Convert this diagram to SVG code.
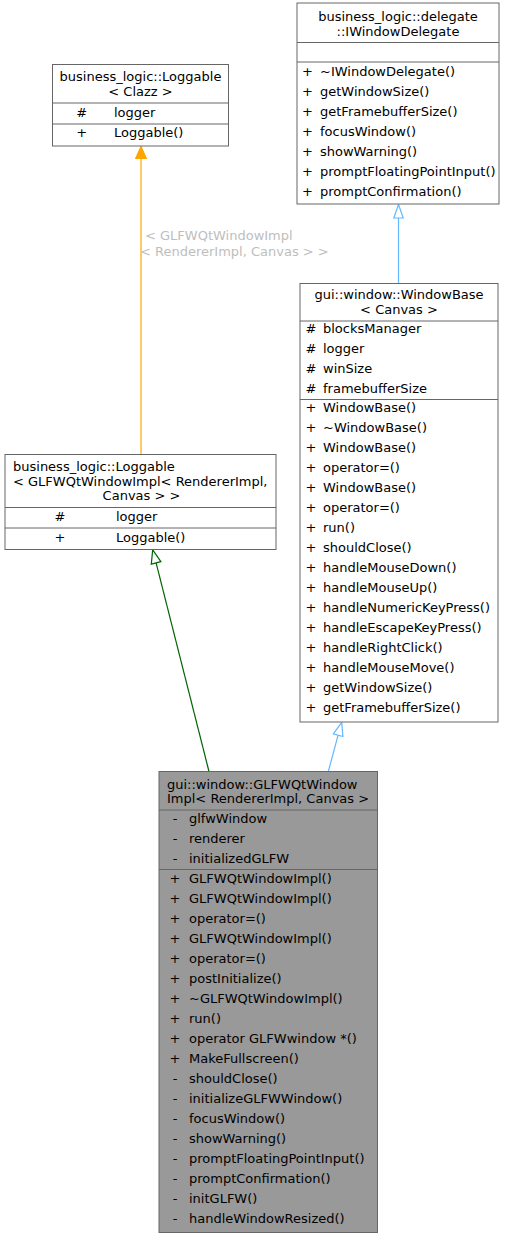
<svg xmlns="http://www.w3.org/2000/svg" width="507" height="1237" viewBox="0 0 507 1237">
<style>
text{font-family:"DejaVu Sans","Liberation Sans",sans-serif;font-size:13px;fill:#000}
.c{text-anchor:middle}
.box{fill:#fff;stroke:#666;stroke-width:1}
.cur{fill:#999;stroke:#666;stroke-width:1}
.sep{stroke:#666;stroke-width:1}
.lbl{fill:#bebebe}
</style>
<rect width="507" height="1237" fill="#fff"/>
<g id="connectors" fill="none" stroke-width="1.2">
  <line x1="141" y1="158" x2="141" y2="454.5" stroke="#ffa500"/>
  <polygon points="141,146.5 135.7,158.5 146.3,158.5" fill="#ffa500" stroke="#ffa500"/>
  <text class="lbl" x="145" y="239.5">&lt; GLFWQtWindowImpl</text>
  <text class="lbl" x="140" y="256">&lt; RendererImpl, Canvas &gt; &gt;</text>
  <line x1="398.5" y1="218" x2="398.5" y2="283.5" stroke="#63b8ff"/>
  <polygon points="398.5,204.5 393.8,218 403.2,218" fill="#fff" stroke="#63b8ff"/>
  <line x1="209" y1="771.5" x2="156.1" y2="562.9" stroke="#006400"/>
  <polygon points="152.7,549.8 160.9,561.7 151.3,564.1" fill="#fff" stroke="#006400"/>
  <line x1="328.3" y1="771.5" x2="338.1" y2="735.2" stroke="#63b8ff"/>
  <polygon points="341.7,722.3 342.9,736.5 333.3,733.9" fill="#fff" stroke="#63b8ff"/>
</g>
<g id="node_loggable_clazz">
  <rect class="box" x="52.5" y="64.5" width="176" height="81.5"/>
  <text class="c" x="140.5" y="81">business_logic::Loggable</text>
  <text class="c" x="140.5" y="96">&lt; Clazz &gt;</text>
  <line class="sep" x1="52.5" y1="103" x2="228.5" y2="103"/>
  <text class="c" x="81.7" y="116.5">#</text><text x="114" y="116.5">logger</text>
  <line class="sep" x1="52.5" y1="124" x2="228.5" y2="124"/>
  <text class="c" x="81.7" y="136.5">+</text><text x="114" y="136.5">Loggable()</text>
</g>
<g id="node_iwindowdelegate">
  <rect class="box" x="297" y="3" width="202" height="201"/>
  <text class="c" x="398" y="21">business_logic::delegate</text>
  <text class="c" x="398" y="36">::IWindowDelegate</text>
  <line class="sep" x1="297" y1="42.5" x2="499" y2="42.5"/>
  <line class="sep" x1="297" y1="62" x2="499" y2="62"/>
  <text class="c" x="307.5" y="75.5">+</text><text x="320" y="75.5">~IWindowDelegate()</text>
  <text class="c" x="307.5" y="95.5">+</text><text x="320" y="95.5">getWindowSize()</text>
  <text class="c" x="307.5" y="115.5">+</text><text x="320" y="115.5">getFramebufferSize()</text>
  <text class="c" x="307.5" y="135.5">+</text><text x="320" y="135.5">focusWindow()</text>
  <text class="c" x="307.5" y="155.5">+</text><text x="320" y="155.5">showWarning()</text>
  <text class="c" x="307.5" y="175.5">+</text><text x="320" y="175.5">promptFloatingPointInput()</text>
  <text class="c" x="307.5" y="195.5">+</text><text x="320" y="195.5">promptConfirmation()</text>
</g>
<g id="node_windowbase">
  <rect class="box" x="300" y="283.5" width="198" height="438.5"/>
  <text class="c" x="399" y="299">gui::window::WindowBase</text>
  <text class="c" x="399" y="314">&lt; Canvas &gt;</text>
  <line class="sep" x1="300" y1="321" x2="498" y2="321"/>
  <text class="c" x="311" y="333">#</text><text x="323" y="333">blocksManager</text>
  <text class="c" x="311" y="353">#</text><text x="323" y="353">logger</text>
  <text class="c" x="311" y="373">#</text><text x="323" y="373">winSize</text>
  <text class="c" x="311" y="393">#</text><text x="323" y="393">framebufferSize</text>
  <line class="sep" x1="300" y1="399.5" x2="498" y2="399.5"/>
  <text class="c" x="311" y="411.5">+</text><text x="323" y="411.5">WindowBase()</text>
  <text class="c" x="311" y="431.5">+</text><text x="323" y="431.5">~WindowBase()</text>
  <text class="c" x="311" y="451.5">+</text><text x="323" y="451.5">WindowBase()</text>
  <text class="c" x="311" y="471.5">+</text><text x="323" y="471.5">operator=()</text>
  <text class="c" x="311" y="491.5">+</text><text x="323" y="491.5">WindowBase()</text>
  <text class="c" x="311" y="511.5">+</text><text x="323" y="511.5">operator=()</text>
  <text class="c" x="311" y="531.5">+</text><text x="323" y="531.5">run()</text>
  <text class="c" x="311" y="551.5">+</text><text x="323" y="551.5">shouldClose()</text>
  <text class="c" x="311" y="571.5">+</text><text x="323" y="571.5">handleMouseDown()</text>
  <text class="c" x="311" y="591.5">+</text><text x="323" y="591.5">handleMouseUp()</text>
  <text class="c" x="311" y="611.5">+</text><text x="323" y="611.5">handleNumericKeyPress()</text>
  <text class="c" x="311" y="631.5">+</text><text x="323" y="631.5">handleEscapeKeyPress()</text>
  <text class="c" x="311" y="651.5">+</text><text x="323" y="651.5">handleRightClick()</text>
  <text class="c" x="311" y="671.5">+</text><text x="323" y="671.5">handleMouseMove()</text>
  <text class="c" x="311" y="691.5">+</text><text x="323" y="691.5">getWindowSize()</text>
  <text class="c" x="311" y="711.5">+</text><text x="323" y="711.5">getFramebufferSize()</text>
</g>
<g id="node_loggable_glfw">
  <rect class="box" x="5" y="454.5" width="271" height="95"/>
  <text x="13" y="471">business_logic::Loggable</text>
  <text x="13" y="485.5">&lt; GLFWQtWindowImpl&lt; RendererImpl,</text>
  <text class="c" x="141.5" y="500">Canvas &gt; &gt;</text>
  <line class="sep" x1="5" y1="507.5" x2="276" y2="507.5"/>
  <text class="c" x="60" y="521">#</text><text x="116" y="521">logger</text>
  <line class="sep" x1="5" y1="528" x2="276" y2="528"/>
  <text class="c" x="60" y="541.5">+</text><text x="116" y="541.5">Loggable()</text>
</g>
<g id="node_glfwqtwindowimpl">
  <rect class="cur" x="159" y="771.5" width="218.5" height="461"/>
  <text x="167" y="788.5">gui::window::GLFWQtWindow</text>
  <text x="167" y="803">Impl&lt; RendererImpl, Canvas &gt;</text>
  <line class="sep" x1="159" y1="810" x2="377.5" y2="810"/>
  <text class="c" x="175" y="822.5">-</text><text x="189" y="822.5">glfwWindow</text>
  <text class="c" x="175" y="842.5">-</text><text x="189" y="842.5">renderer</text>
  <text class="c" x="175" y="862.5">-</text><text x="189" y="862.5">initializedGLFW</text>
  <line class="sep" x1="159" y1="869.5" x2="377.5" y2="869.5"/>
  <text class="c" x="175" y="882.5">+</text><text x="189" y="882.5">GLFWQtWindowImpl()</text>
  <text class="c" x="175" y="902.5">+</text><text x="189" y="902.5">GLFWQtWindowImpl()</text>
  <text class="c" x="175" y="922.5">+</text><text x="189" y="922.5">operator=()</text>
  <text class="c" x="175" y="942.5">+</text><text x="189" y="942.5">GLFWQtWindowImpl()</text>
  <text class="c" x="175" y="962.5">+</text><text x="189" y="962.5">operator=()</text>
  <text class="c" x="175" y="982.5">+</text><text x="189" y="982.5">postInitialize()</text>
  <text class="c" x="175" y="1002.5">+</text><text x="189" y="1002.5">~GLFWQtWindowImpl()</text>
  <text class="c" x="175" y="1022.5">+</text><text x="189" y="1022.5">run()</text>
  <text class="c" x="175" y="1042.5">+</text><text x="189" y="1042.5">operator GLFWwindow *()</text>
  <text class="c" x="175" y="1062.5">+</text><text x="189" y="1062.5">MakeFullscreen()</text>
  <text class="c" x="175" y="1082.5">-</text><text x="189" y="1082.5">shouldClose()</text>
  <text class="c" x="175" y="1102.5">-</text><text x="189" y="1102.5">initializeGLFWWindow()</text>
  <text class="c" x="175" y="1122.5">-</text><text x="189" y="1122.5">focusWindow()</text>
  <text class="c" x="175" y="1142.5">-</text><text x="189" y="1142.5">showWarning()</text>
  <text class="c" x="175" y="1162.5">-</text><text x="189" y="1162.5">promptFloatingPointInput()</text>
  <text class="c" x="175" y="1182.5">-</text><text x="189" y="1182.5">promptConfirmation()</text>
  <text class="c" x="175" y="1202.5">-</text><text x="189" y="1202.5">initGLFW()</text>
  <text class="c" x="175" y="1222.5">-</text><text x="189" y="1222.5">handleWindowResized()</text>
</g>
</svg>
